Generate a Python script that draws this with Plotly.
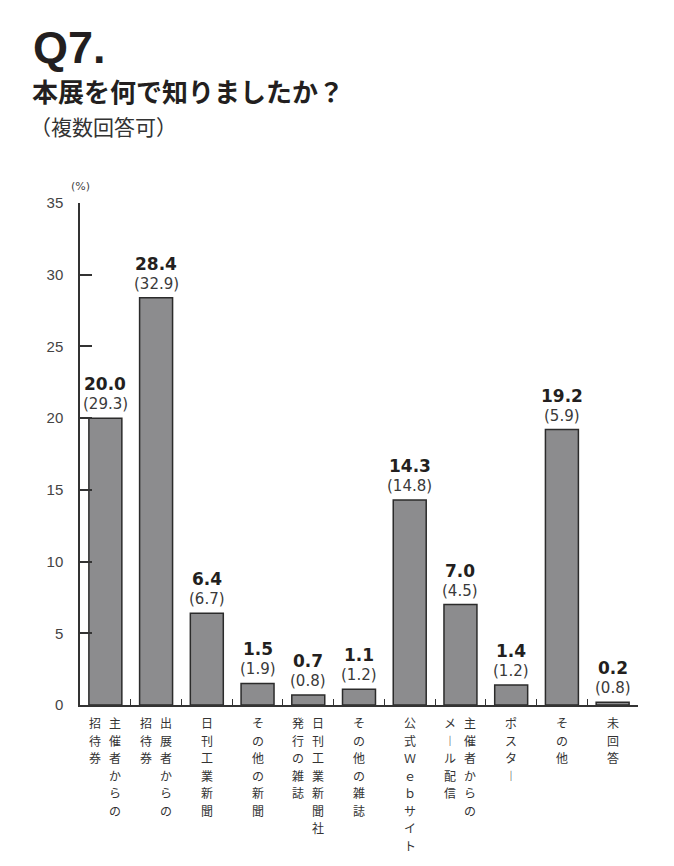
import plotly.graph_objects as go

# ---- data ----
label_columns = [
    ["主催者からの", "招待券"],
    ["出展者からの", "招待券"],
    ["日刊工業新聞"],
    ["その他の新聞"],
    ["日刊工業新聞社", "発行の雑誌"],
    ["その他の雑誌"],
    ["公式Ｗｅｂサイト"],
    ["主催者からの", "メール配信"],
    ["ポスター"],
    ["その他"],
    ["未回答"],
]
categories = ["".join(c) for c in label_columns]
values_current = [20.0, 28.4, 6.4, 1.5, 0.7, 1.1, 14.3, 7.0, 1.4, 19.2, 0.2]
values_previous = [29.3, 32.9, 6.7, 1.9, 0.8, 1.2, 14.8, 4.5, 1.2, 5.9, 0.8]
y_ticks = [0, 5, 10, 15, 20, 25, 30, 35]

W, H = 674, 866
ML, MR, MT, MB = 80, 36, 203, 161
PW, PH = W - ML - MR, H - MT - MB

def px_x(p):
    return (p - ML) / PW

def px_y(p):
    return (H - MB - p) / PH

NUM_FONT = "DejaVu Sans, Liberation Sans, sans-serif"
JP_FONT = "Noto Sans CJK JP, sans-serif"
TXT = "#231f20"

fig = go.Figure()
fig.add_bar(
    x=categories,
    y=values_current,
    width=0.65,
    marker=dict(color="#8c8c8e", line=dict(color="#2b2b2b", width=1.5)),
    hoverinfo="skip",
)

annotations = []
for cat, v, pv in zip(categories, values_current, values_previous):
    annotations.append(dict(
        x=cat, y=v, xref="x", yref="y", text=f"<b>{v:.1f}</b>", showarrow=False,
        yanchor="middle", xanchor="center", yshift=34,
        font=dict(family=NUM_FONT, size=17, color=TXT)))
    annotations.append(dict(
        x=cat, y=v, xref="x", yref="y", text=f"({pv:.1f})", showarrow=False,
        yanchor="middle", xanchor="center", yshift=14,
        font=dict(family=NUM_FONT, size=15, color="#3a3a3a")))

# vertical (tategaki) category labels: one character per row, columns read right to left
CHAR_PITCH = 17.5
for cat, cols in zip(categories, label_columns):
    shifts = [0] if len(cols) == 1 else [10, -10]
    for col, sh in zip(cols, shifts):
        for j, ch in enumerate(col):
            annotations.append(dict(
                x=cat, y=0, xref="x", yref="y", text=("︱" if ch == "ー" else ch),
                showarrow=False, yanchor="top", xanchor="center",
                yshift=-7 - j * CHAR_PITCH, xshift=sh,
                font=dict(family=JP_FONT, size=12, color="#333333")))

# titles
annotations += [
    dict(x=px_x(31), y=px_y(47), xref="paper", yref="paper", text="<b>Q7.</b>",
         showarrow=False, xanchor="left", yanchor="middle",
         font=dict(family="Liberation Sans, Arial, sans-serif", size=45, color=TXT)),
    dict(x=px_x(30), y=px_y(91), xref="paper", yref="paper", text="<b>本展を何で知りましたか？</b>",
         showarrow=False, xanchor="left", yanchor="middle",
         font=dict(family=JP_FONT, size=26, color=TXT)),
    dict(x=px_x(28), y=px_y(126), xref="paper", yref="paper", text="（複数回答可）",
         showarrow=False, xanchor="left", yanchor="middle",
         font=dict(family=JP_FONT, size=21, color="#333333")),
    dict(x=px_x(80), y=px_y(186), xref="paper", yref="paper", text="(%)",
         showarrow=False, xanchor="center", yanchor="middle",
         font=dict(family=NUM_FONT, size=11, color="#444444")),
]

fig.update_layout(
    width=W, height=H,
    margin=dict(l=ML, r=MR, t=MT, b=MB, pad=0),
    paper_bgcolor="white", plot_bgcolor="white",
    showlegend=False,
    annotations=annotations,
    xaxis=dict(
        type="category", range=[-0.5, 10.5], showgrid=False, zeroline=False,
        showline=True, linecolor="#333333", linewidth=1.5,
        ticks="inside", tickson="boundaries", ticklen=6, tickwidth=1.2, tickcolor="#333333",
        showticklabels=False, fixedrange=True,
    ),
    yaxis=dict(
        range=[0, 35], tickvals=y_ticks, ticktext=[str(t) for t in y_ticks],
        showgrid=False, zeroline=False,
        showline=True, linecolor="#333333", linewidth=1.5,
        ticks="inside", ticklen=12, tickwidth=1.5, tickcolor="#333333",
        ticklabelstandoff=12,
        tickfont=dict(family="Liberation Sans, Arial, sans-serif", size=15, color="#444444"),
        fixedrange=True,
    ),
)

fig.write_html("out.html", config={"displayModeBar": False})
